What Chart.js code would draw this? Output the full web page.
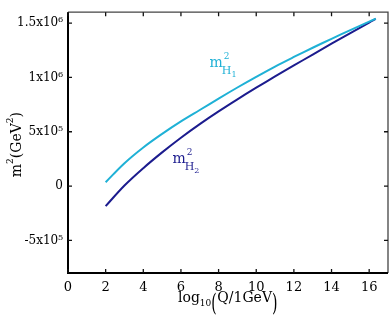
<!DOCTYPE html>
<html>
<head>
<meta charset="utf-8">
<script src="https://cdn.jsdelivr.net/npm/chart.js@4.4.1/dist/chart.umd.min.js"></script>
<style>
html,body{margin:0;padding:0;background:#fff;}
#wrap{width:390px;height:329px;position:relative;}
</style>
</head>
<body>
<div id="wrap"><canvas id="c" width="390" height="329"></canvas></div>
<script>
// ---- data ----
const xValues = [2, 3, 4, 5, 6, 7, 8, 9, 10, 11, 12, 13, 14, 15, 16, 16.35];
const mH1 = [35000, 210000, 355000, 480000, 595000, 700000, 805000, 907000, 1005000, 1100000, 1188000, 1273000, 1355000, 1435000, 1513000, 1540000];
const mH2 = [-185000, 5000, 165000, 310000, 445000, 570000, 687000, 798000, 905000, 1009000, 1110000, 1210000, 1310000, 1408000, 1505000, 1538000];
const xTickValues = [0, 2, 4, 6, 8, 10, 12, 14, 16];
const yTickValues = [-500000, 0, 500000, 1000000, 1500000];
const yTickLabels = ['-5x10\u2075', '0', '5x10\u2075', '1x10\u2076', '1.5x10\u2076'];
const seriesNames = ['m_H1^2', 'm_H2^2'];
const labelPos = [[7.52, 1100000], [5.55, 208000]];

const cyan = '#1fb1d6';
const navy = '#1c1c8e';
const SERIF = '"DejaVu Serif", "Liberation Serif", serif';

function pts(ys){ return xValues.map((x,i)=>({x:x, y:ys[i]})); }

function drawRuns(ctx, x, y, runs, align){
  let total = 0;
  runs.forEach(r=>{ ctx.font = r[1]+'px '+SERIF; total += ctx.measureText(r[0]).width; });
  let cx = align==='center' ? x - total/2 : x;
  runs.forEach(r=>{
    ctx.font = r[1]+'px '+SERIF;
    ctx.fillText(r[0], cx, y + r[2]);
    cx += ctx.measureText(r[0]).width;
  });
}

function curveLabel(ctx, x, y, color, sub){
  ctx.fillStyle = color;
  ctx.font = '14px '+SERIF; ctx.fillText('m', x, y);
  const w = ctx.measureText('m').width;
  ctx.font = '9px '+SERIF; ctx.fillText('2', x+w+1, y-8);
  ctx.font = '11px '+SERIF; ctx.fillText('H', x+w-1, y+7);
  const wh = ctx.measureText('H').width;
  ctx.font = '8px '+SERIF; ctx.fillText(sub, x+w-1+wh, y+10);
}

const decor = {
  id:'decor',
  afterDraw(chart){
    const ctx = chart.ctx;
    const a = chart.chartArea;
    const xs = chart.scales.x, ys = chart.scales.y;
    ctx.save();
    // frame
    ctx.strokeStyle = '#444';
    ctx.lineWidth = 1.3;
    ctx.beginPath();
    ctx.moveTo(a.left, a.top); ctx.lineTo(a.right, a.top); ctx.lineTo(a.right, a.bottom);
    ctx.stroke();
    ctx.strokeStyle = '#000';
    ctx.lineWidth = 2;
    ctx.beginPath();
    ctx.moveTo(a.left, a.top); ctx.lineTo(a.left, a.bottom); ctx.lineTo(a.right, a.bottom);
    ctx.stroke();
    // inner ticks
    ctx.lineWidth = 1.3;
    ctx.strokeStyle = '#111';
    ctx.beginPath();
    xs.ticks.forEach(t=>{
      const p = xs.getPixelForValue(t.value);
      ctx.moveTo(p, a.bottom); ctx.lineTo(p, a.bottom-4);
      ctx.moveTo(p, a.top); ctx.lineTo(p, a.top+4);
    });
    ys.ticks.forEach(t=>{
      const p = ys.getPixelForValue(t.value);
      ctx.moveTo(a.left, p); ctx.lineTo(a.left+4, p);
      ctx.moveTo(a.right, p); ctx.lineTo(a.right-4, p);
    });
    ctx.stroke();

    ctx.textBaseline = 'alphabetic';
    ctx.textAlign = 'left';
    curveLabel(ctx, xs.getPixelForValue(labelPos[0][0]), ys.getPixelForValue(labelPos[0][1]), cyan, '1');
    curveLabel(ctx, xs.getPixelForValue(labelPos[1][0]), ys.getPixelForValue(labelPos[1][1]), navy, '2');

    // y title
    ctx.fillStyle = '#000';
    ctx.save();
    ctx.translate(21, (a.top+a.bottom)/2 + 2);
    ctx.rotate(-Math.PI/2);
    drawRuns(ctx, 0, 0, [['m',14,0],['2',9,-8],['(GeV',14,0],['2',9,-8],[')',14,0]], 'center');
    ctx.restore();

    // x title
    const base = 302;
    ctx.font = '14px '+SERIF;
    const wLog = ctx.measureText('log').width;
    ctx.font = '9px '+SERIF;
    const w10 = ctx.measureText('10').width;
    ctx.font = '14px '+SERIF;
    const wQ = ctx.measureText('Q/1GeV').width;
    const wp = 6;
    const total = wLog + w10 + wp + wQ + wp;
    let cx = (a.left + a.right)/2 - total/2;
    ctx.font = '14px '+SERIF; ctx.fillText('log', cx, base); cx += wLog;
    ctx.font = '9px '+SERIF; ctx.fillText('10', cx, base+4); cx += w10;
    ctx.save();
    ctx.font = '14px '+SERIF;
    ctx.translate(cx, base+9);
    ctx.scale(1, 1.75);
    ctx.fillText('(', 0, 0);
    ctx.restore();
    cx += wp;
    ctx.font = '14px '+SERIF; ctx.fillText('Q/1GeV', cx, base); cx += wQ;
    ctx.save();
    ctx.translate(cx, base+9);
    ctx.scale(1, 1.75);
    ctx.font = '14px '+SERIF;
    ctx.fillText(')', 0, 0);
    ctx.restore();
    ctx.restore();
  }
};

new Chart(document.getElementById('c'), {
  type:'line',
  data:{
    datasets:[
      {label:seriesNames[0], data:pts(mH1), borderColor:cyan, borderWidth:2, pointRadius:0, tension:0.35, fill:false},
      {label:seriesNames[1], data:pts(mH2), borderColor:navy, borderWidth:2, pointRadius:0, tension:0.35, fill:false}
    ]
  },
  options:{
    responsive:false,
    animation:false,
    devicePixelRatio:1,
    layout:{padding:{top:12, right:2, left:0, bottom:0}},
    plugins:{legend:{display:false}, tooltip:{enabled:false}},
    scales:{
      x:{
        type:'linear', min:0, max:17,
        afterBuildTicks(s){ s.ticks = xTickValues.map(v=>({value:v})); },
        afterFit(s){ s.height = 56; },
        grid:{display:false, drawTicks:false},
        border:{display:false},
        ticks:{color:'#000', font:{family:SERIF, size:13}, padding:7, maxRotation:0, autoSkip:false,
               callback:(v)=>String(v)}
      },
      y:{
        type:'linear', min:-800000, max:1600000,
        afterBuildTicks(s){ s.ticks = yTickValues.map(v=>({value:v})); },
        afterFit(s){ s.width = 68; },
        grid:{display:false, drawTicks:false},
        border:{display:false},
        ticks:{color:'#000', font:{family:SERIF, size:12}, padding:5, autoSkip:false,
               callback:(v)=>{ const i = yTickValues.indexOf(v); return i>=0 ? yTickLabels[i] : ''; }}
      }
    }
  },
  plugins:[decor]
});
</script>
</body>
</html>
